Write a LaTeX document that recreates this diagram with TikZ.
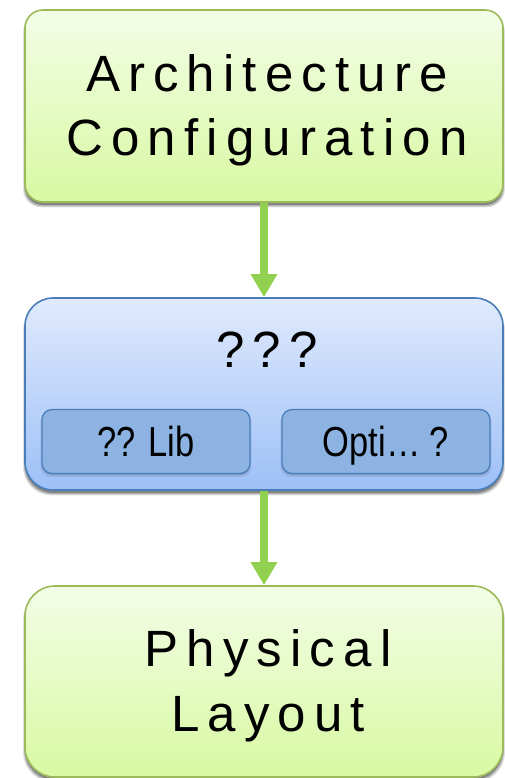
\documentclass[tikz,border=0pt]{standalone}
\usepackage{fontspec}
\setmainfont{Liberation Sans}
\newfontfamily\titlefont[LetterSpace=16]{Liberation Sans}
\newfontfamily\narrowfont[FakeStretch=0.82]{Liberation Sans}
\usetikzlibrary{arrows.meta,shadows}

\definecolor{greentop}{HTML}{F3FDE7}
\definecolor{greenbot}{HTML}{D8F9A2}
\definecolor{greenline}{HTML}{9BBB59}
\definecolor{bluetop}{HTML}{E0EAFD}
\definecolor{bluebot}{HTML}{9DC0F7}
\definecolor{blueline}{HTML}{4A7EBB}
\definecolor{subfill}{HTML}{8DB3E2}
\definecolor{arrowgreen}{HTML}{92D050}

\tikzset{
  % soft drop shadow built from a few translucent copies of the outline
  softshadow/.style={
    general shadow={fill=black, opacity=0.12, draw=none, shadow yshift=-4.5pt, shadow scale=1.008},
    general shadow={fill=black, opacity=0.18, draw=none, shadow yshift=-4pt, shadow scale=1.004},
    general shadow={fill=black, opacity=0.28, draw=none, shadow yshift=-3pt}},
  lightshadow/.style={
    general shadow={fill=black, opacity=0.08, draw=none, shadow yshift=-3pt, shadow scale=1.015},
    general shadow={fill=black, opacity=0.10, draw=none, shadow yshift=-2pt}},
  bigbox/.style={line width=1.6pt, minimum width=478pt, minimum height=192pt,
    inner sep=0pt, softshadow},
  greenbox/.style={bigbox, draw=greenline, top color=greentop, bottom color=greenbot},
  bluebox/.style={bigbox, draw=blueline, top color=bluetop, bottom color=bluebot, rounded corners=28pt},
  bigtext/.style={font=\titlefont\fontsize{51}{64}\selectfont, anchor=base, inner sep=0pt},
  subbox/.style={draw=blueline, line width=1.3pt, fill=subfill, rounded corners=10pt,
    minimum width=208pt, minimum height=64pt, inner sep=0pt,
    text height=30pt, text depth=0pt,
    font=\narrowfont\fontsize{42}{50}\selectfont, lightshadow},
  flow/.style={draw=arrowgreen, line width=7.5pt, -{Triangle[width=25pt,length=23pt]}},
}

\begin{document}%
\begin{tikzpicture}[x=1pt,y=-1pt]
  % page background
  \useasboundingbox[fill=white] (0,0) rectangle (504,778);

  % stages of the flow
  \node[greenbox, rounded corners=18pt] (arch) at (264,106) {};
  \node[bluebox] (mid) at (264,394) {};
  \node[greenbox, rounded corners=30pt, minimum height=191pt] (phys) at (264,681.5) {};

  % stage titles
  \node[bigtext] (archA) at (267,91.7) {Architecture};
  \node[bigtext] (archB) at (267,155.5) {Configuration};
  \node[bigtext] (physA) at (268,666.7) {Physical};
  \node[bigtext] (physB) at (268,731.7) {Layout};

  % contents of the middle stage
  \node[bigtext] (qq) at (267,367) {???};
  \node[subbox] (lib) at (146,441.5) {?? Lib};
  \node[subbox] (opt) at (386,441.5) {Opti\dots\ ?};

  % connectors
  \draw[flow] (arch.south) -- (mid.north);
  \draw[flow] (mid.south) -- (phys.north);
\end{tikzpicture}%
\end{document}
